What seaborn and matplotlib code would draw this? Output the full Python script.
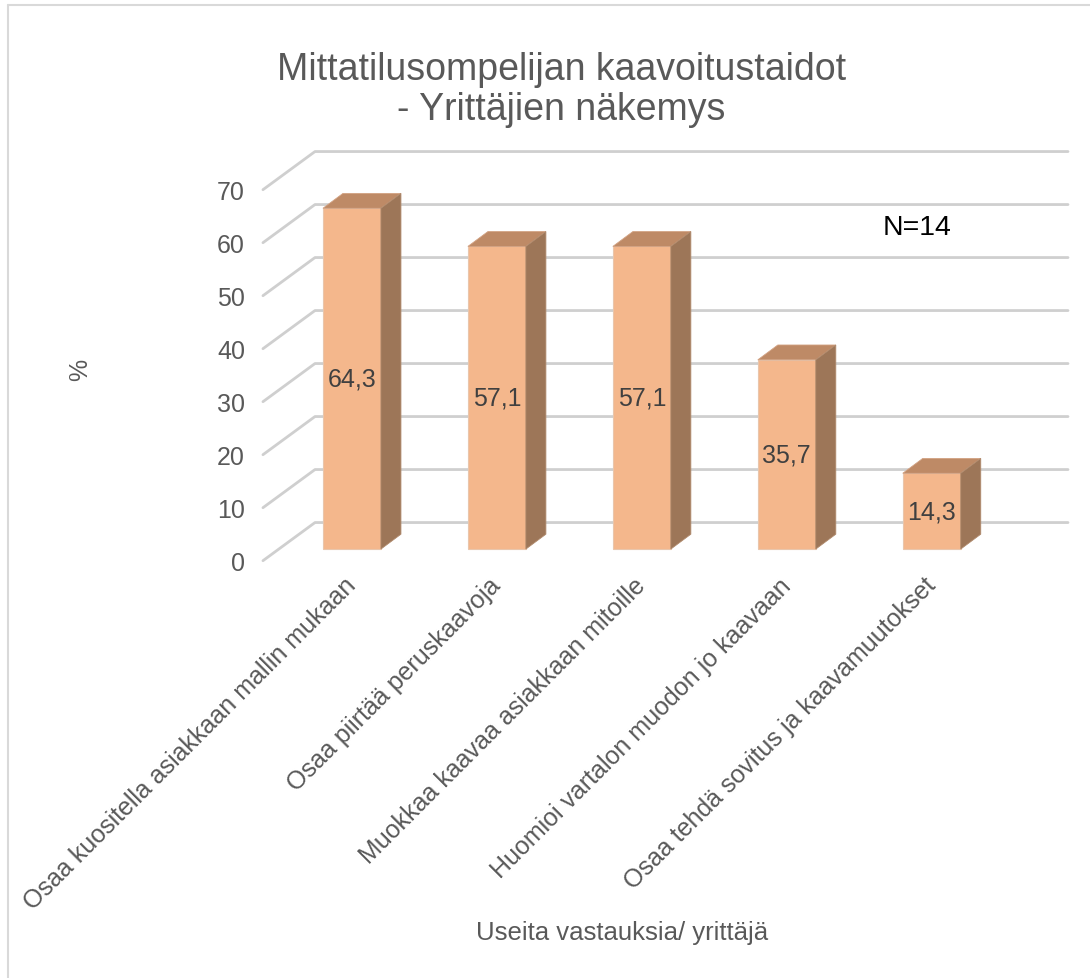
import pandas as pd
import matplotlib.pyplot as plt
import seaborn as sns
from matplotlib.patches import Polygon
from matplotlib.lines import Line2D

# --- data ---
categories = [
    "Osaa kuositella asiakkaan mallin mukaan",
    "Osaa piirtää peruskaavoja",
    "Muokkaa kaavaa asiakkaan mitoille",
    "Huomioi vartalon muodon jo kaavaan",
    "Osaa tehdä sovitus ja kaavamuutokset",
]
values = [64.3, 57.1, 57.1, 35.7, 14.3]
yticks = [0, 10, 20, 30, 40, 50, 60, 70]

title = "Mittatilusompelijan kaavoitustaidot\n- Yrittäjien näkemys"
x_title = "Useita vastauksia/ yrittäjä"
y_title = "%"
note = "N=14"

# colours of the 3d bar faces
front_col = "#F4B78C"
top_col = "#BE8A66"
side_col = "#9D7658"
grid_col = "#CFCFCF"
text_col = "#595959"

# depth offsets (data units)
front_dx, front_dy = -0.614, -2.2   # front-left end of gridlines
back_dx, back_dy = -0.255, 5.0      # back wall left corner
wall_right = 4.94
bar_dx, bar_dy = 0.138, 2.8         # bar depth

sns.set_style("white")
plt.rcParams["font.family"] = ["Liberation Sans", "DejaVu Sans"]

fig = plt.figure(figsize=(10.9, 9.79), dpi=100)
ax = fig.add_axes([0.2298, 0.4165, 0.758, 0.4331])

df = pd.DataFrame({"kategoria": categories, "osuus": values})
sns.barplot(data=df, x="kategoria", y="osuus", color=front_col, saturation=1,
            width=0.4, edgecolor="#E9C6AC", linewidth=0.8, ax=ax, zorder=3)

ax.set_xlim(-0.7, 5.0)
ax.set_ylim(-4, 76)

# back wall gridlines with diagonal floor-edge
for t in yticks:
    ax.add_line(Line2D([front_dx, back_dx, wall_right], [t + front_dy, t + back_dy, t + back_dy],
                       color=grid_col, lw=2.0, zorder=1, solid_capstyle="round"))

# top and side faces from the drawn bars
for p in ax.patches[:len(values)]:
    x0, w, h = p.get_x(), p.get_width(), p.get_height()
    top = Polygon([(x0, h), (x0 + bar_dx, h + bar_dy), (x0 + w + bar_dx, h + bar_dy), (x0 + w, h)],
                  closed=True, facecolor=top_col, edgecolor="#D2A283", lw=0.6, zorder=3)
    side = Polygon([(x0 + w, 0), (x0 + w + bar_dx, bar_dy), (x0 + w + bar_dx, h + bar_dy), (x0 + w, h)],
                   closed=True, facecolor=side_col, edgecolor="#B08A6C", lw=0.6, zorder=3)
    ax.add_patch(top)
    ax.add_patch(side)
    ax.text(x0 + w / 2, h / 2, f"{h:.1f}".replace(".", ","), ha="center", va="center",
            fontsize=18, color="#404040", zorder=4)

ax.set_yticks([t + front_dy for t in yticks], [str(t) for t in yticks])
ax.set_xticks(range(len(categories)), categories)
ax.tick_params(axis="y", length=0, pad=4, labelsize=18, labelcolor=text_col)
ax.tick_params(axis="x", length=0, pad=8, labelsize=18, labelcolor=text_col)
for lab in ax.get_xticklabels():
    lab.set_rotation(45)
    lab.set_ha("right")
    lab.set_va("center")
    lab.set_rotation_mode("anchor")
ax.set_xlabel("")
ax.set_ylabel("")
sns.despine(ax=ax, left=True, bottom=True)

fig.text(0.515, 1 - 90 / 979, title, ha="center", va="center", fontsize=27,
         color=text_col, linespacing=1.16)
fig.text(0.0735, 1 - 370 / 979, y_title, rotation=90, ha="center", va="center",
         fontsize=18, color=text_col)
fig.text(0.571, 1 - 933 / 979, x_title, ha="center", va="center",
         fontsize=18.5, color=text_col)
ax.text(0.841, 1 - 228 / 979, note, transform=fig.transFigure, ha="center", va="center",
        fontsize=20.5, color="black")

# chart frame (left and top edges only visible)
fig.add_artist(Line2D([8 / 1090, 8 / 1090], [0, 1 - 6 / 979], transform=fig.transFigure,
                      color="#D9D9D9", lw=1.5))
fig.add_artist(Line2D([8 / 1090, 1], [1 - 6 / 979, 1 - 6 / 979], transform=fig.transFigure,
                      color="#D9D9D9", lw=1.5))

fig.savefig("out.png", dpi=100)
